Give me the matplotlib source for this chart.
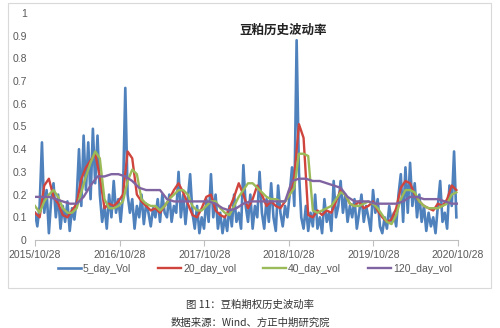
import numpy as np
import pandas as pd
import matplotlib
matplotlib.use("Agg")
import matplotlib.pyplot as plt
import matplotlib.dates as mdates
from matplotlib.patches import Rectangle

plt.rcParams['font.family'] = ['Noto Sans CJK SC', 'DejaVu Sans']

# ---- data ----
start = '2015-10-28'

# 5 day vol, one reading every 10 days
vol5 = [0.12, 0.06, 0.15, 0.43, 0.12, 0.22, 0.03, 0.18, 0.25, 0.1, 0.2, 0.05, 0.15, 0.08, 0.17, 0.04, 0.14, 0.09, 0.18,
        0.4, 0.15, 0.46, 0.22, 0.43, 0.18, 0.49, 0.25, 0.46, 0.2,
        0.08, 0.15, 0.05, 0.2, 0.1, 0.26, 0.12, 0.18, 0.08, 0.2,
        0.67, 0.2,
        0.12, 0.18, 0.05, 0.15, 0.1, 0.2, 0.07, 0.16, 0.12, 0.06, 0.14, 0.1, 0.18, 0.08, 0.2, 0.12,
        0.1, 0.2, 0.08, 0.15, 0.12, 0.3, 0.1, 0.2, 0.07, 0.18, 0.29, 0.12, 0.05, 0.15, 0.03, 0.1, 0.05, 0.18, 0.08, 0.29, 0.1, 0.2,
        0.05, 0.12, 0.03, 0.1, 0.04, 0.15, 0.06, 0.2, 0.08, 0.12, 0.05, 0.33, 0.15,
        0.08, 0.2, 0.05, 0.15, 0.1, 0.3, 0.12, 0.05, 0.18, 0.08, 0.25, 0.1, 0.04, 0.24, 0.12, 0.06, 0.15, 0.1, 0.2, 0.32, 0.15,
        0.88,
        0.3, 0.1, 0.05, 0.15, 0.04, 0.12, 0.06, 0.2, 0.05, 0.1, 0.03, 0.18, 0.08, 0.12, 0.04, 0.26, 0.1, 0.15, 0.26, 0.12, 0.2, 0.08, 0.15,
        0.1, 0.18, 0.05, 0.12, 0.2, 0.08, 0.15, 0.1, 0.04, 0.22, 0.12, 0.18, 0.06, 0.03, 0.1, 0.05, 0.15, 0.08, 0.12, 0.06,
        0.2, 0.29, 0.08, 0.32, 0.12, 0.34, 0.15, 0.25, 0.1, 0.2,
        0.08, 0.15, 0.04, 0.12, 0.06, 0.1, 0.03, 0.15, 0.26, 0.08, 0.12, 0.05, 0.24, 0.15, 0.39, 0.1]

# 20 day vol, every 20 days
vol20 = [0.12, 0.1, 0.24, 0.27, 0.19, 0.16, 0.11, 0.1, 0.13, 0.16,
         0.27, 0.32, 0.35, 0.38, 0.28, 0.14, 0.16, 0.15, 0.17, 0.2,
         0.39, 0.36, 0.2, 0.17, 0.15, 0.13, 0.14, 0.12, 0.15, 0.18,
         0.22, 0.25, 0.21, 0.16, 0.11, 0.1, 0.14, 0.19, 0.2, 0.13,
         0.11, 0.1, 0.14, 0.19, 0.25, 0.2, 0.14, 0.18, 0.24, 0.2,
         0.15, 0.17, 0.15, 0.14, 0.17, 0.2, 0.28, 0.51, 0.45, 0.11,
         0.1, 0.13, 0.11, 0.13, 0.12, 0.17, 0.22, 0.2, 0.16, 0.15,
         0.17, 0.14, 0.15, 0.17, 0.13, 0.1, 0.08, 0.09, 0.14, 0.23,
         0.26, 0.25, 0.2, 0.17, 0.15, 0.14, 0.13, 0.16, 0.15, 0.18,
         0.24, 0.22]

# 40 day vol, every 20 days
vol40 = [0.15, 0.12, 0.17, 0.2, 0.22, 0.19, 0.14, 0.12, 0.12, 0.14,
         0.21, 0.28, 0.34, 0.39, 0.36, 0.18, 0.14, 0.14, 0.15, 0.17,
         0.26, 0.31, 0.29, 0.18, 0.16, 0.15, 0.15, 0.13, 0.15, 0.18,
         0.2, 0.22, 0.22, 0.2, 0.15, 0.13, 0.13, 0.15, 0.17, 0.17,
         0.14, 0.12, 0.11, 0.15, 0.19, 0.22, 0.25, 0.25, 0.23, 0.21,
         0.19, 0.18, 0.18, 0.17, 0.17, 0.2, 0.23, 0.38, 0.38, 0.37,
         0.13, 0.12, 0.13, 0.14, 0.15, 0.18, 0.21, 0.2, 0.16, 0.15,
         0.15, 0.16, 0.17, 0.16, 0.14, 0.11, 0.08, 0.07, 0.11, 0.18,
         0.22, 0.22, 0.21, 0.17, 0.15, 0.14, 0.14, 0.14, 0.15, 0.16,
         0.2, 0.21]

# 120 day vol, every 30 days
vol120 = [0.19, 0.19, 0.19, 0.18, 0.17, 0.16, 0.16, 0.19, 0.24, 0.28,
          0.28, 0.29, 0.29, 0.28, 0.26, 0.23, 0.22, 0.22, 0.22, 0.18,
          0.17, 0.17, 0.17, 0.17, 0.17, 0.17, 0.16, 0.14, 0.13, 0.14,
          0.16, 0.17, 0.17, 0.17, 0.17, 0.17, 0.17, 0.26, 0.27, 0.27,
          0.26, 0.26, 0.25, 0.24, 0.23, 0.19, 0.17, 0.17, 0.17, 0.16,
          0.16, 0.16, 0.16, 0.17, 0.19, 0.19, 0.18, 0.18, 0.18, 0.17,
          0.16, 0.16]

tick_dates = ['2015-10-28', '2016-10-28', '2017-10-28', '2018-10-28', '2019-10-28', '2020-10-28']
names = ['5_day_Vol', '20_day_vol', '40_day_vol', '120_day_vol']
colors = ['#4F81BD', '#D0443E', '#9BBB59', '#8064A2']
widths = [1.9, 1.7, 1.7, 1.7]

d5 = pd.date_range(start, periods=len(vol5), freq='10D')
d20 = pd.date_range(start, periods=len(vol20), freq='20D')
d40 = pd.date_range(start, periods=len(vol40), freq='20D')
d120 = pd.date_range(start, periods=len(vol120), freq='30D')

# ---- plot ----
fig = plt.figure(figsize=(5.0, 3.28), dpi=100)
fig.patches.append(Rectangle((8/500, 1-288/328), 483/500, 285/328, transform=fig.transFigure,
                             fill=False, edgecolor='#D9D9D9', lw=0.8))

ax = fig.add_axes([35/500, 1-240/328, 423/500, 227/328])
for d, v, c, n, w in zip([d5, d20, d40, d120], [vol5, vol20, vol40, vol120], colors, names, widths):
    ax.plot(d, v, color=c, lw=w, label=n)

ax.set_xlim(pd.Timestamp('2015-10-28'), pd.Timestamp('2020-10-28'))
ax.set_ylim(0, 1)
ax.set_yticks(np.arange(0, 1.01, 0.1))
ax.set_yticklabels(['0'] + ['%.1f' % t for t in np.arange(0.1, 0.95, 0.1)] + ['1'])
ax.set_xticks(pd.to_datetime(tick_dates))
ax.xaxis.set_major_formatter(mdates.DateFormatter('%Y/%m/%d'))

for s in ['top', 'right', 'left']:
    ax.spines[s].set_visible(False)
ax.spines['bottom'].set_color('#BFBFBF')
ax.tick_params(axis='y', length=0, pad=6, labelsize=7.5, labelcolor='#595959')
ax.tick_params(axis='x', length=4, color='#BFBFBF', pad=3, labelsize=7.5, labelcolor='#595959')
for lab in ax.get_xticklabels() + ax.get_yticklabels():
    lab.set_family(['Liberation Sans', 'DejaVu Sans'])

fig.text(283/500, 1-30/328, '豆粕历史波动率', ha='center', va='center', fontsize=9, fontweight='bold', color='#222222')

leg = fig.legend(loc='center', bbox_to_anchor=(0.51, 1-269/328), ncol=4, frameon=False,
                 handlelength=2.2, columnspacing=2.6, handletextpad=0.2,
                 prop={'family': ['Liberation Sans', 'DejaVu Sans'], 'size': 7.5})
for t in leg.get_texts():
    t.set_color('#595959')

fig.text(0.5, 1-305/328, '图 11：豆粕期权历史波动率', ha='center', va='center', fontsize=7.5, color='#333333')
fig.text(0.5, 1-323/328, '数据来源：Wind、方正中期研究院', ha='center', va='center', fontsize=7.5, color='#333333')

fig.savefig('out.png', dpi=100)
